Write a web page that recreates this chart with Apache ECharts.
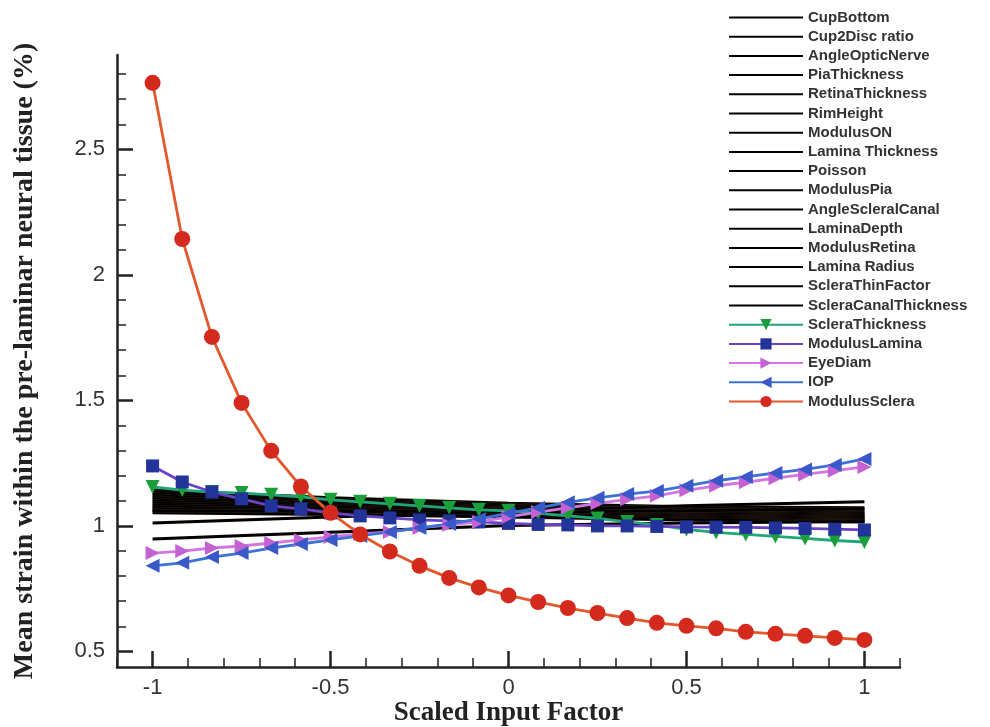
<!DOCTYPE html>
<html>
<head>
<meta charset="utf-8">
<script src="https://cdn.jsdelivr.net/npm/echarts@6/dist/echarts.min.js"></script>
<style>
html, body { margin: 0; padding: 0; background: #fff; }
#chart { width: 990px; height: 727px; }
</style>
</head>
<body>
<div id="chart"></div>
<script>
// scaled input factor positions (25 samples for the marked series)
const xFine = [-1, -0.9167, -0.8333, -0.75, -0.6667, -0.5833, -0.5, -0.4167, -0.3333, -0.25, -0.1667, -0.0833,
  0, 0.0833, 0.1667, 0.25, 0.3333, 0.4167, 0.5, 0.5833, 0.6667, 0.75, 0.8333, 0.9167, 1]
// positions where the plain black lines were read
const xCoarse = [-1, -0.5, 0, 0.5, 1]

const xMajorTicks = [-1, -0.5, 0, 0.5, 1]
const xMinorTicks = [-1.1, -0.9, -0.8, -0.7, -0.6, -0.4, -0.3, -0.2, -0.1, 0.1, 0.2, 0.3, 0.4, 0.6, 0.7, 0.8, 0.9, 1.1]
const yMajorTicks = [0.5, 1, 1.5, 2, 2.5]
const yMinorTicks = [0.6, 0.7, 0.8, 0.9, 1.1, 1.2, 1.3, 1.4, 1.6, 1.7, 1.8, 1.9, 2.1, 2.2, 2.3, 2.4, 2.6, 2.7, 2.8]

// black (unmarked) factors
const blackNames = ['CupBottom', 'Cup2Disc ratio', 'AngleOpticNerve', 'PiaThickness', 'RetinaThickness', 'RimHeight',
  'ModulusON', 'Lamina Thickness', 'Poisson', 'ModulusPia', 'AngleScleralCanal', 'LaminaDepth', 'ModulusRetina',
  'Lamina Radius', 'ScleraThinFactor', 'ScleraCanalThickness']
const cupBottom = [1.143, 1.112, 1.090, 1.076, 1.072]
const cup2Disc = [1.135, 1.105, 1.085, 1.070, 1.062]
const angleOpticNerve = [1.128, 1.100, 1.080, 1.064, 1.055]
const piaThickness = [1.120, 1.095, 1.075, 1.060, 1.050]
const retinaThickness = [1.112, 1.090, 1.070, 1.056, 1.046]
const rimHeight = [1.105, 1.085, 1.066, 1.052, 1.042]
const modulusON = [1.098, 1.080, 1.062, 1.048, 1.038]
const laminaThickness = [1.090, 1.075, 1.058, 1.044, 1.034]
const poisson = [1.082, 1.070, 1.054, 1.040, 1.030]
const modulusPia = [1.075, 1.064, 1.050, 1.036, 1.026]
const angleScleralCanal = [1.068, 1.058, 1.045, 1.032, 1.022]
const laminaDepth = [1.060, 1.052, 1.040, 1.028, 1.018]
const modulusRetina = [1.052, 1.046, 1.036, 1.024, 1.016]
const laminaRadius = [1.060, 1.058, 1.055, 1.060, 1.068]
const scleraThinFactor = [1.012, 1.036, 1.058, 1.080, 1.096]
const scleraCanalThickness = [0.948, 0.975, 1.002, 1.012, 1.018]
const blackValues = [cupBottom, cup2Disc, angleOpticNerve, piaThickness, retinaThickness, rimHeight, modulusON,
  laminaThickness, poisson, modulusPia, angleScleralCanal, laminaDepth, modulusRetina, laminaRadius,
  scleraThinFactor, scleraCanalThickness]

// marked factors
const scleraThickness = [1.155, 1.143, 1.135, 1.131, 1.124, 1.116, 1.104, 1.096, 1.088, 1.080, 1.072, 1.064,
  1.060, 1.050, 1.040, 1.030, 1.016, 1.004, 0.986, 0.974, 0.966, 0.958, 0.950, 0.942, 0.936]
const modulusLamina = [1.239, 1.175, 1.135, 1.108, 1.080, 1.068, 1.052, 1.040, 1.032, 1.024, 1.020, 1.016,
  1.010, 1.006, 1.004, 1.000, 1.000, 0.998, 0.996, 0.995, 0.994, 0.992, 0.990, 0.987, 0.984]
const eyeDiam = [0.892, 0.900, 0.912, 0.920, 0.932, 0.944, 0.956, 0.968, 0.976, 0.992, 1.004, 1.016,
  1.036, 1.055, 1.072, 1.090, 1.106, 1.120, 1.142, 1.160, 1.174, 1.190, 1.205, 1.220, 1.235]
const iop = [0.841, 0.853, 0.876, 0.892, 0.912, 0.928, 0.944, 0.960, 0.976, 0.992, 1.008, 1.028,
  1.050, 1.072, 1.094, 1.112, 1.127, 1.139, 1.160, 1.180, 1.195, 1.211, 1.225, 1.243, 1.267]
const modulusSclera = [2.765, 2.143, 1.753, 1.490, 1.299, 1.157, 1.052, 0.966, 0.898, 0.841, 0.793, 0.755,
  0.723, 0.697, 0.673, 0.653, 0.633, 0.614, 0.602, 0.592, 0.578, 0.570, 0.562, 0.554, 0.546]

function pairs (xs, ys) {
  return ys.map(function (v, i) { return [xs[i], v] })
}

let series = []
blackNames.forEach(function (name, i) {
  series.push({
    name: name,
    type: 'line',
    symbol: 'none',
    data: pairs(xCoarse, blackValues[i]),
    lineStyle: { color: '#000', width: 3, shadowColor: 'rgba(240,160,120,0.35)', shadowBlur: 1 },
    // transparent so the legend keeps just the line
    itemStyle: { color: 'rgba(0,0,0,0)' },
    silent: true,
    z: 2
  })
})

function marked (name, values, lineColor, markColor, symbol, size, rotate) {
  return {
    name: name,
    type: 'line',
    data: pairs(xFine, values),
    symbol: symbol,
    symbolSize: size,
    symbolRotate: rotate,
    showAllSymbol: true,
    lineStyle: { color: lineColor, width: 2.8 },
    itemStyle: { color: markColor },
    z: 3
  }
}
series.push(marked('ScleraThickness', scleraThickness, '#1fa77a', '#1c9e3c', 'triangle', 14, 180))
series.push(marked('ModulusLamina', modulusLamina, '#6a42c8', '#22339a', 'rect', 13, 0))
series.push(marked('EyeDiam', eyeDiam, '#d277e0', '#c462d4', 'triangle', 14, -90))
series.push(marked('IOP', iop, '#3a72d6', '#3a58c8', 'triangle', 14, 90))
series.push(marked('ModulusSclera', modulusSclera, '#e4582e', '#d42a1e', 'circle', 16, 0))

let chart = echarts.init(document.getElementById('chart'))
chart.setOption({
  backgroundColor: '#fff',
  animation: false,
  grid: { left: 117, right: 90, top: 55, bottom: 60, outerBoundsMode: 'none' },
  legend: {
    orient: 'vertical',
    left: 723,
    top: 5,
    itemWidth: 74,
    itemHeight: 14,
    itemGap: 4.2,
    data: blackNames.concat(['ScleraThickness', 'ModulusLamina', 'EyeDiam', 'IOP', 'ModulusSclera']),
    textStyle: { fontFamily: 'Liberation Sans', fontWeight: 'bold', fontSize: 15, color: '#333' }
  },
  xAxis: [
    {
      type: 'value',
      position: 'bottom',
      min: -1.1,
      max: 1.1,
      name: 'Scaled Input Factor',
      nameLocation: 'middle',
      nameGap: 33,
      nameMoveOverlap: false,
      nameTextStyle: { fontFamily: 'Liberation Serif', fontWeight: 'bold', fontSize: 27, color: '#222' },
      axisLine: { onZero: false, lineStyle: { color: '#222', width: 2.5 } },
      axisTick: { inside: true, length: 16, customValues: xMajorTicks, lineStyle: { color: '#222', width: 2.5 } },
      axisLabel: { customValues: xMajorTicks, margin: 10, fontFamily: 'Liberation Sans', fontSize: 22, color: '#333' },
      splitLine: { show: false }
    },
    {
      type: 'value',
      position: 'bottom',
      min: -1.1,
      max: 1.1,
      axisLine: { show: false, onZero: false },
      axisTick: { inside: true, length: 9, customValues: xMinorTicks, lineStyle: { color: '#222', width: 1.5 } },
      axisLabel: { show: false },
      splitLine: { show: false }
    }
  ],
  yAxis: [
    {
      type: 'value',
      position: 'left',
      min: 0.438,
      max: 2.876,
      name: 'Mean strain within the pre-laminar neural tissue (%)',
      nameLocation: 'middle',
      nameRotate: 90,
      nameGap: 78,
      nameMoveOverlap: false,
      nameTextStyle: { fontFamily: 'Liberation Serif', fontWeight: 'bold', fontSize: 28, color: '#222' },
      axisLine: { show: true, onZero: false, lineStyle: { color: '#222', width: 2.5 } },
      axisTick: { inside: true, length: 16, customValues: yMajorTicks, lineStyle: { color: '#222', width: 2.5 } },
      axisLabel: { customValues: yMajorTicks, margin: 12, fontFamily: 'Liberation Sans', fontSize: 22, color: '#333' },
      splitLine: { show: false }
    },
    {
      type: 'value',
      position: 'left',
      min: 0.438,
      max: 2.876,
      axisLine: { show: false, onZero: false },
      axisTick: { inside: true, length: 9, customValues: yMinorTicks, lineStyle: { color: '#222', width: 1.5 } },
      axisLabel: { show: false },
      splitLine: { show: false }
    }
  ],
  series: series
})
</script>
</body>
</html>
